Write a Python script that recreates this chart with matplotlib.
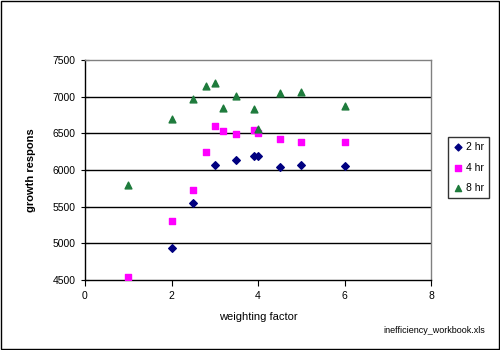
import matplotlib
matplotlib.use("Agg")
import matplotlib.pyplot as plt
from matplotlib.patches import Rectangle

plt.rcParams['font.family'] = ['Liberation Sans', 'DejaVu Sans']

x_2hr = [2, 2.5, 3, 3.5, 3.9, 4, 4.5, 5, 6]
y_2hr = [4930, 5545, 6065, 6135, 6190, 6190, 6040, 6065, 6050]

x_4hr = [1, 2, 2.5, 2.8, 3, 3.2, 3.5, 3.9, 4, 4.5, 5, 6]
y_4hr = [4545, 5310, 5730, 6250, 6600, 6535, 6490, 6545, 6505, 6425, 6385, 6385]

x_8hr = [1, 2, 2.5, 2.8, 3, 3.2, 3.5, 3.9, 4, 4.5, 5, 6]
y_8hr = [5790, 6700, 6970, 7150, 7190, 6840, 7015, 6825, 6555, 7055, 7070, 6875]

series_labels = ['2 hr', '4 hr', '8 hr']
x_ticks = [0, 2, 4, 6, 8]
y_ticks = [4500, 5000, 5500, 6000, 6500, 7000, 7500]

fig = plt.figure(figsize=(5, 3.5), dpi=100)
ax = fig.add_axes([0.17, 0.2, 0.692, 0.6286])

ax.scatter(x_2hr, y_2hr, marker='D', s=15, color='#000080', label=series_labels[0], zorder=3)
ax.scatter(x_4hr, y_4hr, marker='s', s=20, color='#FF00FF', label=series_labels[1], zorder=3)
ax.scatter(x_8hr, y_8hr, marker='^', s=24, color='#1E7B3C', label=series_labels[2], zorder=3)

ax.set_xlim(0, 8)
ax.set_ylim(4500, 7500)
ax.set_xticks(x_ticks)
ax.set_yticks(y_ticks)
for yv in y_ticks[1:-1]:
    ax.axhline(yv, color='black', lw=1.0, zorder=1)

ax.spines['top'].set_color('#808080')
ax.spines['right'].set_color('#808080')
ax.spines['left'].set_color('black')
ax.spines['bottom'].set_color('black')
for s in ax.spines.values():
    s.set_linewidth(1.0)

ax.tick_params(axis='y', direction='inout', length=6, labelsize=7.5, pad=4)
ax.tick_params(axis='x', direction='out', length=4, labelsize=7.5, pad=4)

ax.set_xlabel('weighting factor', fontsize=8, labelpad=8)
ax.set_ylabel('growth respons', fontsize=8, fontweight='bold', labelpad=12)

leg = ax.legend(loc='upper left', bbox_to_anchor=(1.049, 0.65), frameon=True,
                fontsize=7.5, handletextpad=0.2, borderpad=0.5, labelspacing=1.0,
                handlelength=1.0, fancybox=False, edgecolor='black', markerscale=0.9,
                borderaxespad=0)
leg.get_frame().set_linewidth(1.0)

fig.text(0.97, 0.055, 'inefficiency_workbook.xls', ha='right', va='center', fontsize=6.5)

fig.patches.append(Rectangle((0.002, 0.003), 0.995, 0.994, transform=fig.transFigure,
                             fill=False, edgecolor='black', lw=1.0))

fig.savefig('out.png', dpi=100)
